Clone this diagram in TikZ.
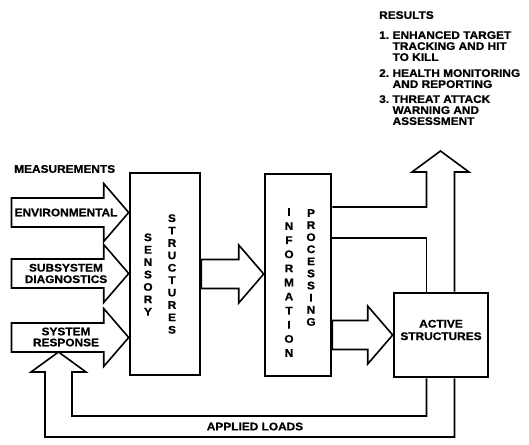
\documentclass[tikz,border=0pt]{standalone}
\usepackage{fontspec}
\setmainfont{Liberation Sans}[FakeStretch=1.08, BoldFeatures={FakeBold=0.8}]
\usetikzlibrary{calc}
% broad horizontal arrow: #1 tail point (on the centre line), #2 tip point
\newcommand\drawfatarrow[2]{%
  \draw[fat] let \p1=(#1), \p2=(#2) in
    (\x1,\y1+14.5pt) -- (\x2-25pt,\y1+14.5pt) -- (\x2-25pt,\y1+29pt)
    -- (\x2,\y1) -- (\x2-25pt,\y1-29pt) -- (\x2-25pt,\y1-14.5pt)
    -- (\x1,\y1-14.5pt) -- cycle;}
\begin{document}
\begin{tikzpicture}[x=1pt,y=-1pt,
  txt/.style={font=\bfseries\fontsize{11}{11}\selectfont, inner sep=0pt},
  block/.style={draw, line width=2.6pt, inner sep=0pt},
  fat/.style={draw, line width=1.6pt, line join=miter},
  letters/.style={inner sep=0pt, align=center, font=\bfseries\fontsize{11}{#1pt}\selectfont}]
\useasboundingbox (0,0) rectangle (529,444);

% main blocks
\node[block, minimum width=70pt, minimum height=202pt] (sensory) at (165,274) {};
\node[block, minimum width=66pt, minimum height=202pt] (info) at (298,275) {};
\node[block, minimum width=94pt, minimum height=84pt] (active) at (441,335) {};

% block labels
\node[letters=12.4] (sensA) at (148,274.5) {S\\E\\N\\S\\O\\R\\Y};
\node[letters=12.4] (sensB) at (172,274) {S\\T\\R\\U\\C\\T\\U\\R\\E\\S};
\node[letters=14.1] (infoA) at (289,282.5) {I\\N\\F\\O\\R\\M\\A\\T\\I\\O\\N};
\node[letters=12.1] (infoB) at (311,267.5) {P\\R\\O\\C\\E\\S\\S\\I\\N\\G};
\node[txt, align=center, font=\bfseries\fontsize{11}{12.5}\selectfont] (actT) at (441,330) {ACTIVE\\STRUCTURES};

% measurement inputs
\coordinate (envIn) at (11.5,212.5);
\coordinate (subIn) at (11.5,273.5);
\coordinate (sysIn) at (11.5,337.5);
\drawfatarrow{envIn}{sensory.west |- envIn}
\drawfatarrow{subIn}{sensory.west |- subIn}
\drawfatarrow{sysIn}{sensory.west |- sysIn}
\node[txt, anchor=west] (meas) at (14,169) {MEASUREMENTS};
\node[txt] (envT) at (66,212.5) {ENVIRONMENTAL};
\node[txt, align=center, font=\bfseries\fontsize{11}{11.5}\selectfont] (subT) at (66,273.5) {SUBSYSTEM\\DIAGNOSTICS};
\node[txt, align=center, font=\bfseries\fontsize{11}{11}\selectfont] (sysT) at (66,337) {SYSTEM\\RESPONSE};

% flow between blocks
\drawfatarrow{sensory.east}{info.west |- sensory.east}
\drawfatarrow{info.east |- active.west}{active.west}

% output arrow towards the results
\coordinate (outL) at (426.5,172);
\coordinate (outR) at (454.5,172);
\coordinate (outLw) at (412,172);
\coordinate (outRw) at (469,172);
\coordinate (outTip) at (440.5,151);
\coordinate (inf1) at ($(info.north east)+(0,34.3)$);
\coordinate (inf2) at ($(info.north east)+(0,65.3)$);
\draw[fat] (inf1) -| (outL) -- (outLw) -- (outTip) -- (outRw) -- (outR) -- (outR |- active.north);
\draw[fat] (inf2) -| (outL |- active.north);

% applied loads fed back to the system response
\coordinate (fbIn) at (72,416);
\coordinate (fbOut) at (45,437);
\coordinate (inR) at (72,372);
\coordinate (inRw) at (86,372);
\coordinate (inL) at (45,372);
\coordinate (inLw) at (31,372);
\coordinate (inTip) at (58.5,352);
\draw[fat] (outL |- active.south) |- (fbIn) -- (inR) -- (inRw) -- (inTip) -- (inLw) -- (inL) -- (fbOut) -| (outR |- active.south);
\node[txt] (loads) at (255,426.5) {APPLIED LOADS};

% results list
\node[txt, anchor=north west] (results) at (379,11) {%
\begin{tabular}{@{}l@{\hspace{3.5pt}}l@{}}
\multicolumn{2}{@{}l}{RESULTS}\\[9pt]
1. & ENHANCED TARGET\\
   & TRACKING AND HIT\\
   & TO KILL\\[5pt]
2. & HEALTH MONITORING\\
   & AND REPORTING\\[4pt]
3. & THREAT ATTACK\\
   & WARNING AND\\
   & ASSESSMENT
\end{tabular}};
\end{tikzpicture}
\end{document}
